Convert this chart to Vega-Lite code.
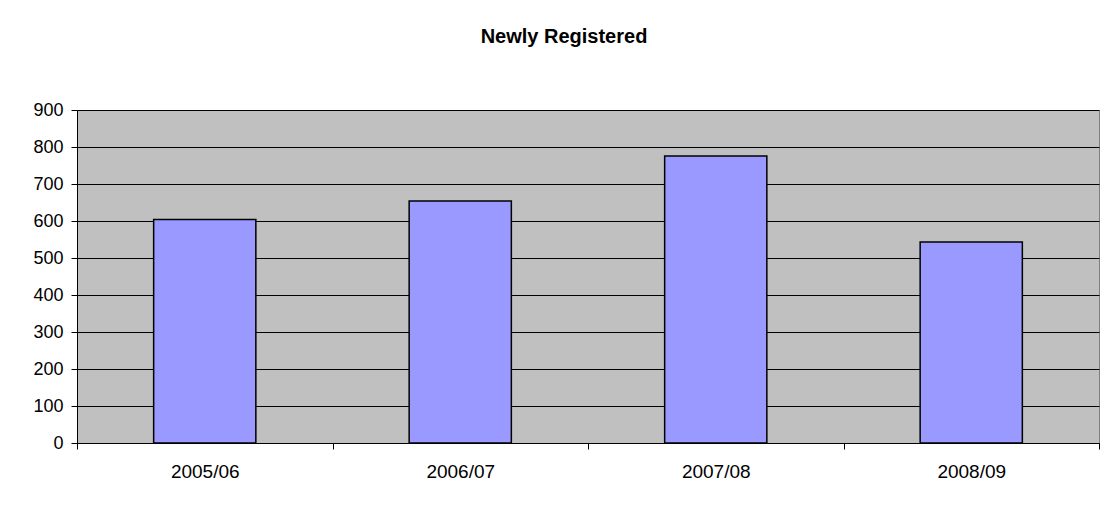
{
  "$schema": "https://vega.github.io/schema/vega-lite/v6.json",
  "width": 1022,
  "height": 333,
  "autosize": {"type": "none"},
  "padding": {"left": 77, "top": 110, "right": 6, "bottom": 71},
  "background": "white",
  "title": {
    "text": "Newly Registered",
    "font": "Liberation Sans",
    "fontSize": 20,
    "fontWeight": "bold",
    "color": "black",
    "anchor": "middle",
    "frame": "group",
    "baseline": "alphabetic",
    "dx": -24,
    "offset": 38
  },
  "data": {
    "values": [
      {"year": "2005/06", "count": 604},
      {"year": "2006/07", "count": 654},
      {"year": "2007/08", "count": 776},
      {"year": "2008/09", "count": 543}
    ]
  },
  "mark": {"type": "bar", "width": {"band": 0.4}, "color": "#9999FF", "stroke": "black", "strokeWidth": 1.5},
  "encoding": {
    "x": {
      "field": "year",
      "type": "nominal",
      "sort": null,
      "scale": {"paddingInner": 0, "paddingOuter": 0},
      "axis": {
        "title": null,
        "labelAngle": 0,
        "labelFont": "Liberation Sans",
        "labelFontSize": 19,
        "labelColor": "black",
        "labelPadding": 13,
        "tickBand": "extent",
        "tickSize": 6,
        "tickColor": "black",
        "domainColor": "black",
        "grid": false
      }
    },
    "y": {
      "field": "count",
      "type": "quantitative",
      "scale": {"domain": [0, 900], "nice": false},
      "axis": {
        "title": null,
        "values": [0, 100, 200, 300, 400, 500, 600, 700, 800, 900],
        "labelFont": "Liberation Sans",
        "labelFontSize": 18,
        "labelColor": "black",
        "labelPadding": 8,
        "tickSize": 6,
        "tickColor": "black",
        "domainColor": "black",
        "gridColor": "black",
        "gridOpacity": 1,
        "gridWidth": 1
      }
    }
  },
  "config": {
    "view": {"fill": "#C0C0C0", "stroke": "#808080", "strokeWidth": 1}
  }
}
